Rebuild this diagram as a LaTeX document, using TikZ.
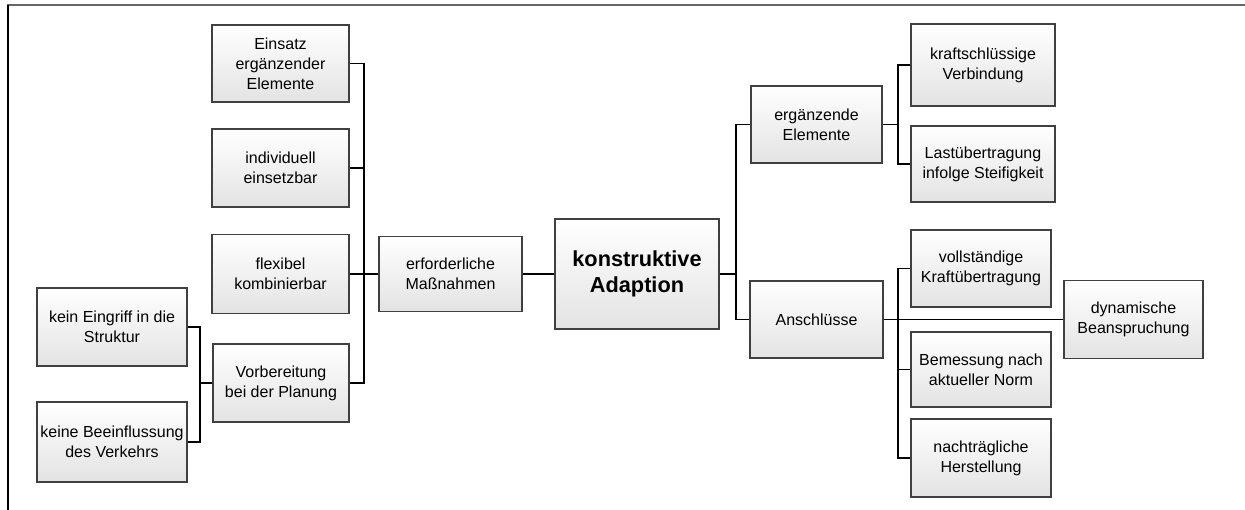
\documentclass[tikz,border=0pt]{standalone}
\usepackage{fontspec}
\setmainfont{Liberation Sans}
\usetikzlibrary{calc}
\tikzset{
  box/.style={draw=black!75, line width=0.9pt, top color=white, bottom color=black!11,
    align=center, inner sep=2pt, font=\fontsize{12}{15}\selectfont, text=black},
  conn/.style={draw=black, line width=1.2pt},
}
\begin{document}
\begin{tikzpicture}[x=0.75pt, y=-0.75pt]
\useasboundingbox (0,0) rectangle (1245,510);
% frame
\draw[black!60, line width=1.6pt] (7,5) -- (1245,5);
\draw[black, line width=0.8pt] (8,5) -- (8,510);

% left side
\node[box, minimum width=137*0.75pt, minimum height=77*0.75pt] (einsatz) at (280.5,63.5) {Einsatz\\ergänzender\\Elemente};
\node[box, minimum width=137*0.75pt, minimum height=78*0.75pt] (indiv) at (280.5,168) {individuell\\einsetzbar};
\node[box, minimum width=137*0.75pt, minimum height=79*0.75pt] (flex) at (280.5,274) {flexibel\\kombinierbar};
\node[box, minimum width=136*0.75pt, minimum height=78*0.75pt] (vorb) at (281,383) {Vorbereitung\\bei der Planung};
\node[box, minimum width=150*0.75pt, minimum height=78*0.75pt] (kein) at (112,327) {kein Eingriff in die\\Struktur};
\node[box, minimum width=150*0.75pt, minimum height=80*0.75pt] (keine) at (112,442) {keine Beeinflussung\\des Verkehrs};
\node[box, minimum width=143*0.75pt, minimum height=75*0.75pt] (erf) at (450.5,274) {erforderliche\\Maßnahmen};
\node[box, minimum width=164*0.75pt, minimum height=110*0.75pt, font=\fontsize{16.3}{20}\selectfont\bfseries] (konst) at (637,274) {konstruktive\\Adaption};

% right side
\node[box, minimum width=131*0.75pt, minimum height=77*0.75pt] (erg) at (816.5,124.5) {ergänzende\\Elemente};
\node[box, minimum width=133*0.75pt, minimum height=77*0.75pt] (ansch) at (816.5,319.5) {Anschlüsse};
\node[box, minimum width=144*0.75pt, minimum height=82*0.75pt] (kraft) at (983,65) {kraftschlüssige\\Verbindung};
\node[box, minimum width=144*0.75pt, minimum height=76*0.75pt] (last) at (983,164) {Lastübertragung\\infolge Steifigkeit};
\node[box, minimum width=140*0.75pt, minimum height=77*0.75pt] (voll) at (981,268.5) {vollständige\\Kraftübertragung};
\node[box, minimum width=140*0.75pt, minimum height=75*0.75pt] (bem) at (981,369.5) {Bemessung nach\\aktueller Norm};
\node[box, minimum width=140*0.75pt, minimum height=78*0.75pt] (nach) at (981,458) {nachträgliche\\Herstellung};
\node[box, minimum width=139*0.75pt, minimum height=78*0.75pt] (dyn) at (1133.5,319.5) {dynamische\\Beanspruchung};

% bus coordinates
\coordinate (busL) at (364,0);
\coordinate (busK) at (200,0);
\coordinate (busR) at (736,0);
\coordinate (busE) at (898,0);

% connectors left
\draw[conn] (einsatz.east) -| (busL |- vorb.east) -- (vorb.east);
\draw[conn] (indiv.east) -- (indiv.east -| busL);
\draw[conn] (flex.east) -- (erf.west);
\draw[conn] (kein.east) -| (busK |- keine.east) -- (keine.east);
\draw[conn] (busK |- vorb.west) -- (vorb.west);
\draw[conn] (erf.east) -- (konst.west);

% connectors right
\draw[conn] (erg.west) -| (busR |- ansch.west) -- (ansch.west);
\draw[conn] (konst.east) -- (konst.east -| busR);
\draw[conn] (kraft.west) -| (busE |- last.west) -- (last.west);
\draw[conn] (erg.east) -- (erg.east -| busE);
\draw[conn] (voll.west) -| (busE |- nach.west) -- (nach.west);
\draw[conn] (bem.west) -- (bem.west -| busE);
\draw[conn] (ansch.east) -- (dyn.west);
\end{tikzpicture}
\end{document}
